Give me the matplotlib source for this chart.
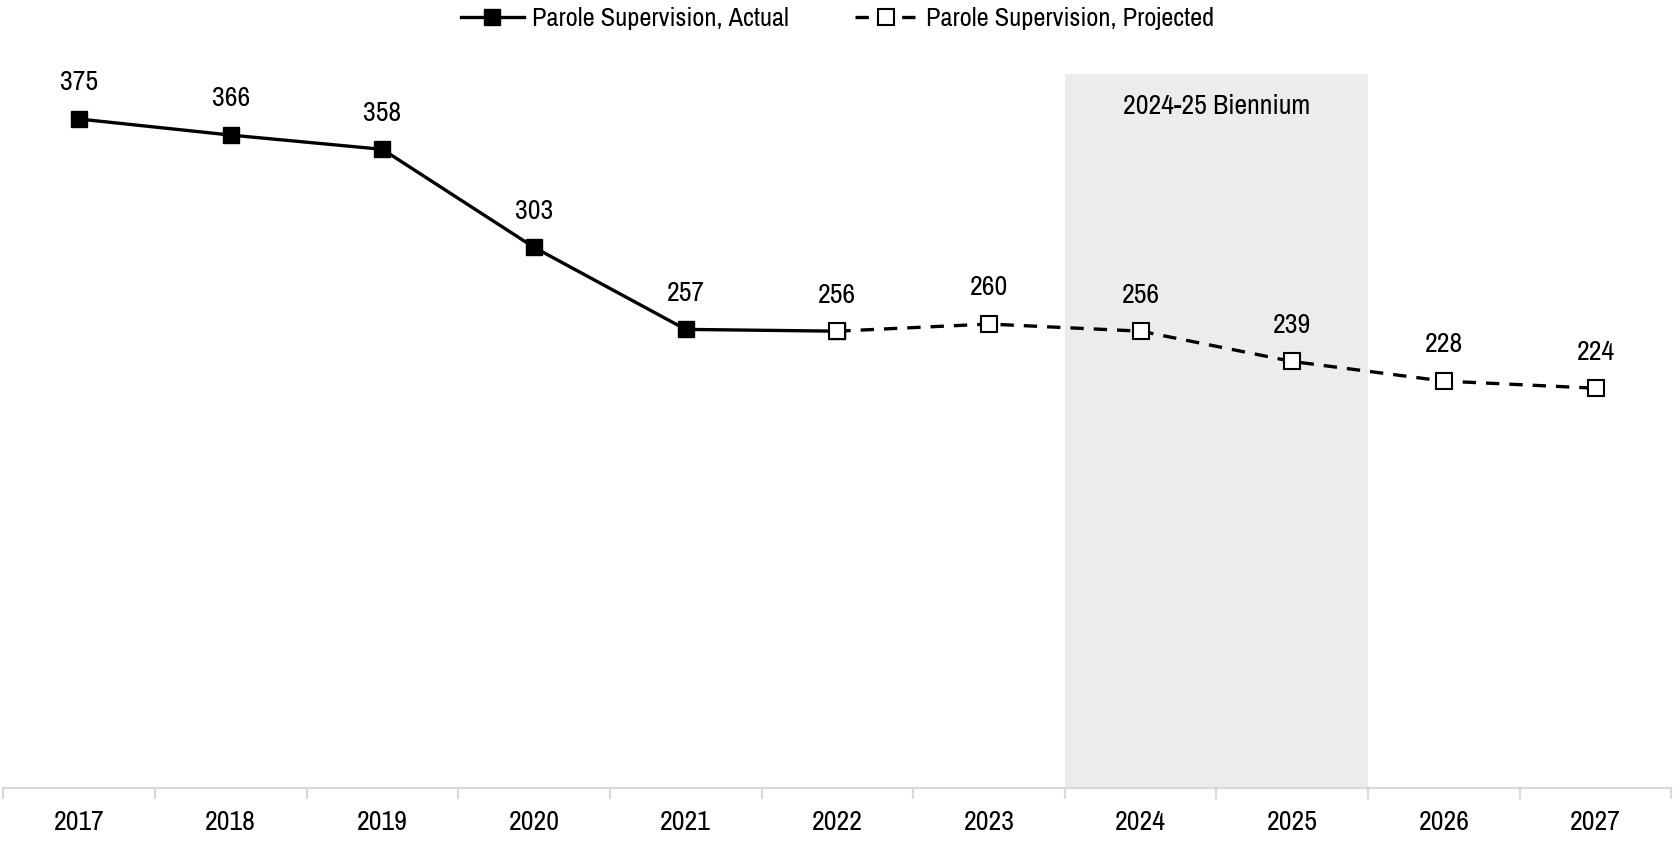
import matplotlib
import matplotlib.pyplot as plt
import numpy as np
from matplotlib import font_manager

# Formatting - pick a narrow face if one is installed
fam = ['DejaVu Sans']
for f in font_manager.fontManager.ttflist:
    if 'Narrow' in f.name or 'Condensed' in f.name:
        fam = [f.name, 'DejaVu Sans']
        break
plt.rcParams['font.family'] = fam
plt.rcParams['font.weight'] = 'semibold'
plt.rcParams['font.size'] = 20

# Data
years = ['2017', '2018', '2019', '2020', '2021', '2022', '2023', '2024', '2025', '2026', '2027']
actual = [375, 366, 358, 303, 257, 256]
projected = [256, 260, 256, 239, 228, 224]
actual_idx = list(range(0, 6))
proj_idx = list(range(5, 11))
biennium_label = '2024-25 Biennium'
biennium_years = ['2024', '2025']

fig = plt.figure(figsize=(16.73, 8.56), dpi=100)
ax = fig.add_axes([0.002, 0.08, 0.997, 0.833])

b0 = years.index(biennium_years[0]) - 0.5
b1 = years.index(biennium_years[1]) + 0.5
ax.axvspan(b0, b1, color='#ececec', zorder=0, lw=0)
ax.text((b0 + b1) / 2, 382, biennium_label, ha='center', va='center')

ax.plot(actual_idx, actual, color='black', lw=2.4, marker='s', ms=11,
        label='Parole Supervision, Actual', zorder=3)
ax.plot(proj_idx, projected, color='black', lw=2.4, ls=(0, (4, 3)), marker='s', ms=11,
        mfc='white', mec='black', mew=1.5, label='Parole Supervision, Projected', zorder=4)

for i, v in zip(actual_idx[:-1], actual[:-1]):
    ax.annotate(str(v), (i, v), xytext=(0, 17), textcoords='offset points', ha='center', va='bottom')
for i, v in zip(proj_idx, projected):
    ax.annotate(str(v), (i, v), xytext=(0, 17), textcoords='offset points', ha='center', va='bottom')

ax.set_xlim(-0.5, len(years) - 0.5)
ax.set_ylim(0, 400)
ax.set_xticks(range(len(years)))
ax.set_xticklabels(years)
ax.set_xticks(np.arange(-0.5, len(years)), minor=True)
ax.tick_params(axis='x', which='major', length=0, pad=16)
ax.tick_params(axis='x', which='minor', length=8, color='#d9d9d9', width=1.5)
ax.set_yticks([])
for s in ['top', 'right', 'left']:
    ax.spines[s].set_visible(False)
ax.spines['bottom'].set_color('#d9d9d9')
ax.spines['bottom'].set_linewidth(1.5)

ax.legend(loc='upper center', bbox_to_anchor=(0.5, 1.128), ncol=2, frameon=False,
          fontsize=19, handlelength=2.4, handletextpad=0.3, columnspacing=2.5)

fig.savefig('out.png')
